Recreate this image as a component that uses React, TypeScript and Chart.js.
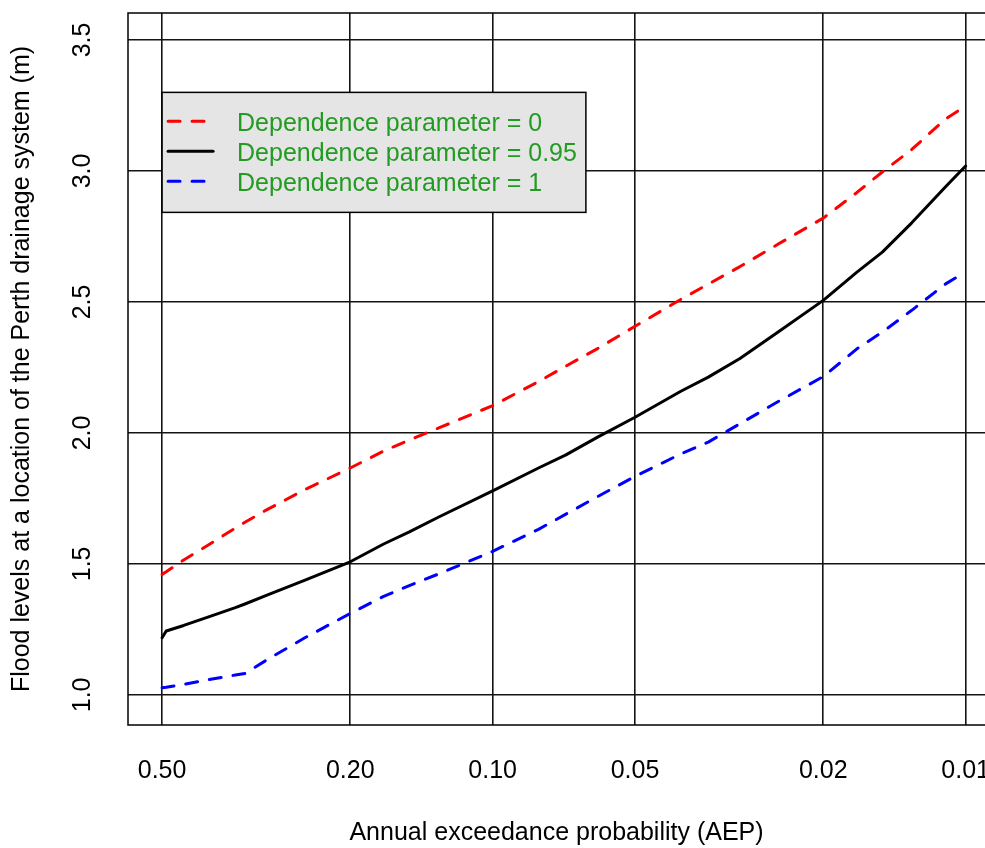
import React, { useEffect, useRef } from "react";
import { Chart, registerables } from "chart.js";

Chart.register(...registerables);

// Annual exceedance probabilities (x positions of the read points)
const aep = [0.5, 0.49, 0.45, 0.4, 0.35, 0.334, 0.3, 0.25, 0.2, 0.17, 0.15, 0.13, 0.1, 0.08, 0.07, 0.06, 0.05, 0.04, 0.035, 0.03, 0.025, 0.02, 0.017, 0.015, 0.013, 0.011, 0.01];

// Flood levels (m) for each dependence parameter
const levelsDep0 = [1.46, 1.47, 1.515, 1.571, 1.637, 1.659, 1.707, 1.783, 1.866, 1.931, 1.973, 2.019, 2.104, 2.196, 2.255, 2.322, 2.407, 2.51, 2.568, 2.635, 2.719, 2.82, 2.917, 2.996, 3.082, 3.2, 3.248];
const levelsDep095 = [1.218, 1.244, 1.265, 1.297, 1.333, 1.347, 1.381, 1.437, 1.508, 1.576, 1.622, 1.679, 1.779, 1.866, 1.916, 1.984, 2.06, 2.159, 2.213, 2.284, 2.383, 2.506, 2.613, 2.69, 2.802, 2.942, 3.019];
const levelsDep1 = [1.027, 1.029, 1.04, 1.058, 1.076, 1.082, 1.134, 1.217, 1.311, 1.376, 1.417, 1.462, 1.548, 1.632, 1.69, 1.757, 1.834, 1.92, 1.965, 2.035, 2.118, 2.215, 2.32, 2.385, 2.468, 2.57, 2.615];

const seriesLabels = ["Dependence parameter = 0", "Dependence parameter = 0.95", "Dependence parameter = 1"];

const xTickValues = [0.5, 0.2, 0.1, 0.05, 0.02, 0.01];
const yTickValues = [1.0, 1.5, 2.0, 2.5, 3.0, 3.5];

const xTitle = "Annual exceedance probability (AEP)";
const yTitle = "Flood levels at a location of the Perth drainage system (m)";

const FONT = "Arial, 'Liberation Sans', sans-serif";
const LEGEND_TEXT = "rgb(34,155,34)";

const boxAndLegend = {
  id: "boxAndLegend",
  afterDatasetsDraw(chart: any) {
    const { ctx, chartArea: a, scales } = chart;
    ctx.save();
    // plot box (right side runs off the canvas)
    ctx.strokeStyle = "#000";
    ctx.lineWidth = 1.5;
    ctx.setLineDash([]);
    ctx.beginPath();
    ctx.moveTo(chart.width + 10, a.top);
    ctx.lineTo(a.left, a.top);
    ctx.lineTo(a.left, a.bottom);
    ctx.lineTo(chart.width + 10, a.bottom);
    ctx.stroke();

    // legend
    const lx = scales.x.getPixelForValue(0.5);
    const ly = scales.y.getPixelForValue(3.3);
    ctx.font = `25px ${FONT}`;
    let maxW = 0;
    chart.data.datasets.forEach((d: any) => {
      maxW = Math.max(maxW, ctx.measureText(d.label).width);
    });
    const w = 75 + maxW + 9;
    const h = 30 * (chart.data.datasets.length + 1);
    ctx.fillStyle = "#e5e5e5";
    ctx.fillRect(lx, ly, w, h);
    ctx.strokeRect(lx, ly, w, h);
    chart.data.datasets.forEach((d: any, i: number) => {
      const yy = ly + 30 * (i + 1);
      ctx.beginPath();
      ctx.strokeStyle = d.borderColor;
      ctx.lineWidth = d.borderWidth;
      ctx.lineCap = "round";
      ctx.setLineDash(d.borderDash || []);
      ctx.moveTo(lx + 6, yy - 1);
      ctx.lineTo(lx + 51, yy - 1);
      ctx.stroke();
      ctx.setLineDash([]);
      ctx.fillStyle = LEGEND_TEXT;
      ctx.textBaseline = "middle";
      ctx.textAlign = "left";
      ctx.fillText(d.label, lx + 75, yy + 2);
    });
    ctx.restore();
  },
};

export default function App() {
  const ref = useRef<HTMLCanvasElement | null>(null);

  useEffect(() => {
    if (!ref.current) return;
    Chart.defaults.font.family = FONT;
    const mk = (vals: number[]) => aep.map((x, i) => ({ x, y: vals[i] }));
    const chart = new Chart(ref.current, {
      type: "line",
      data: {
        datasets: [
          {
            label: seriesLabels[0],
            data: mk(levelsDep0),
            borderColor: "#ff0000",
            borderWidth: 3,
            borderDash: [12, 12],
            borderCapStyle: "round",
            borderJoinStyle: "round",
            pointRadius: 0,
            fill: false,
            tension: 0,
          },
          {
            label: seriesLabels[1],
            data: mk(levelsDep095),
            borderColor: "#000000",
            borderWidth: 3,
            borderCapStyle: "round",
            borderJoinStyle: "round",
            pointRadius: 0,
            fill: false,
            tension: 0,
          },
          {
            label: seriesLabels[2],
            data: mk(levelsDep1),
            borderColor: "#0000ff",
            borderWidth: 3,
            borderDash: [12, 12],
            borderCapStyle: "round",
            borderJoinStyle: "round",
            pointRadius: 0,
            fill: false,
            tension: 0,
          },
        ],
      },
      options: {
        animation: false,
        responsive: false,
        devicePixelRatio: 1,
        layout: { padding: { top: 13, left: 0, right: 0, bottom: 0 } },
        plugins: { legend: { display: false }, tooltip: { enabled: false } },
        scales: {
          x: {
            type: "logarithmic",
            reverse: true,
            min: 0.0091,
            max: 0.5902,
            bounds: "data",
            afterBuildTicks: (s: any) => {
              s.ticks = xTickValues.map((v) => ({ value: v }));
            },
            afterFit: (s: any) => {
              s.height = 123;
              s.paddingLeft = 0;
              s.paddingRight = 0;
            },
            grid: { color: "#141414", lineWidth: 1.6, drawTicks: false },
            border: { display: false },
            ticks: {
              font: { size: 25, family: FONT },
              color: "#000",
              padding: 31,
              autoSkip: false,
              maxRotation: 0,
              minRotation: 0,
              callback: (v: any) => Number(v).toFixed(2),
            },
            title: {
              display: true,
              text: xTitle,
              color: "#000",
              font: { size: 25, family: FONT },
              padding: { top: 0, bottom: 0 },
            },
          },
          y: {
            type: "linear",
            min: 0.885,
            max: 3.603,
            bounds: "data",
            afterBuildTicks: (s: any) => {
              s.ticks = yTickValues.map((v) => ({ value: v }));
            },
            afterFit: (s: any) => {
              s.width = 128;
              s.paddingTop = 0;
              s.paddingBottom = 0;
            },
            grid: { color: "#141414", lineWidth: 1.6, drawTicks: false },
            border: { display: false },
            ticks: {
              font: { size: 25, family: FONT },
              color: "#000",
              padding: 28,
              minRotation: 90,
              maxRotation: 90,
              crossAlign: "center",
              autoSkip: false,
              callback: (v: any) => Number(v).toFixed(1),
            },
            title: {
              display: true,
              text: yTitle,
              color: "#000",
              font: { size: 25, family: FONT },
              padding: { top: 7, bottom: 0 },
            },
          },
        },
      },
      plugins: [boxAndLegend],
    } as any);
    return () => chart.destroy();
  }, []);

  return (
    <div style={{ position: "absolute", left: 0, top: 0, width: 985, height: 848, overflow: "hidden", background: "#fff" }}>
      <canvas ref={ref} width={985} height={848} style={{ display: "block", width: 985, height: 848 }} />
    </div>
  );
}
